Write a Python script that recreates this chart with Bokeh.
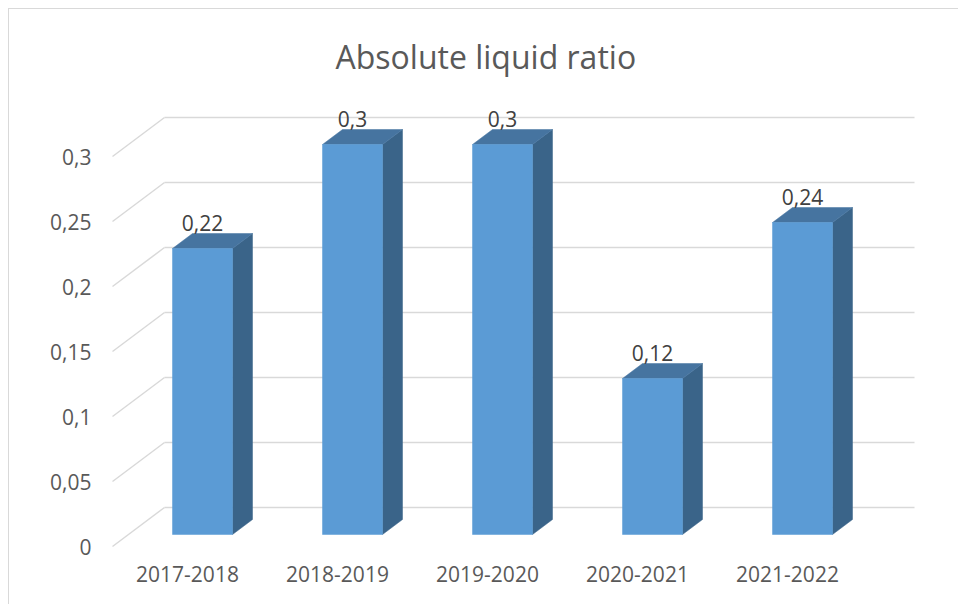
from bokeh.plotting import figure
from bokeh.models import FixedTicker, CustomJSTickFormatter, ColumnDataSource, Range1d
from bokeh.core.properties import value
from bokeh.embed import file_html
from bokeh.resources import INLINE

# ---- data ----
categories = ["2017-2018", "2018-2019", "2019-2020", "2020-2021", "2021-2022"]
ratios = [0.22, 0.30, 0.30, 0.12, 0.24]
ratio_labels = ["0,22", "0,3", "0,3", "0,12", "0,24"]
y_ticks = [0, 0.05, 0.1, 0.15, 0.2, 0.25, 0.3]
title_text = "Absolute liquid ratio"

# ---- geometry (pixel scales -> data units) ----
PX_X = 150.0   # pixels per category
PX_Y = 1300.0  # pixels per unit of ratio
W, H = 950, 596
frame_left, frame_right, frame_top, frame_bottom = 100, 910, 87, 540  # canvas px

x_start = -3 / PX_X
x_end = x_start + (frame_right - frame_left) / PX_X
y_start = -3 / PX_Y
y_end = y_start + (frame_bottom - frame_top) / PX_Y

# oblique depth offsets (in data units)
back_dx, back_dy = 52 / PX_X, 39 / PX_Y      # front wall -> back wall
bar_dx, bar_dy = 15 / PX_X, 12 / PX_Y        # front wall -> bar front face
depth_dx, depth_dy = 20 / PX_X, 15 / PX_Y    # bar depth
bar_w = 60 / PX_X

FONT = "Open Sans"
GREY = "#595959"

p = figure(width=W, height=H, output_backend="svg", toolbar_location=None,
           x_range=Range1d(x_start, x_end), y_range=Range1d(y_start, y_end),
           min_border_left=frame_left, min_border_right=W - frame_right,
           min_border_top=frame_top, min_border_bottom=H - frame_bottom,
           title=title_text)
p.styles = {"margin-left": "8px", "margin-top": "8px",
            "border-left": "1px solid #d9d9d9", "border-top": "1px solid #d9d9d9"}
p.outline_line_color = None
p.xgrid.visible = False
p.ygrid.visible = False

p.title.text_font = FONT
p.title.text_font_size = "32px"
p.title.text_font_style = "normal"
p.title.text_color = GREY
p.title.align = "left"
p.title.offset = 226
p.title.standoff = 38

# y axis
p.yaxis.ticker = FixedTicker(ticks=y_ticks)
p.yaxis.formatter = CustomJSTickFormatter(code="""
    let s = tick.toFixed(2).replace(/0+$/, '').replace(/\\.$/, '');
    return s.replace('.', ',');
""")
p.yaxis.axis_line_color = None
p.yaxis.major_tick_line_color = None
p.yaxis.minor_tick_line_color = None
p.yaxis.major_tick_out = 0
p.yaxis.major_label_standoff = 18
p.yaxis.major_label_text_font = FONT
p.yaxis.major_label_text_font_size = "21px"
p.yaxis.major_label_text_color = GREY

# x axis
centers = [i + 0.5 for i in range(len(categories))]
p.xaxis.ticker = FixedTicker(ticks=centers)
p.xaxis.major_label_overrides = {c: lab for c, lab in zip(centers, categories)}
p.xaxis.axis_line_color = None
p.xaxis.major_tick_line_color = None
p.xaxis.minor_tick_line_color = None
p.xaxis.major_tick_out = 0
p.xaxis.major_label_standoff = 16
p.xaxis.major_label_text_font = FONT
p.xaxis.major_label_text_font_size = "21px"
p.xaxis.major_label_text_color = GREY

# ---- walls / gridlines ----
n = len(categories)
diag_xs, diag_ys, hor_xs, hor_ys = [], [], [], []
for t in y_ticks:
    diag_xs.append([0, back_dx]); diag_ys.append([t, t + back_dy])
    hor_xs.append([back_dx, back_dx + n]); hor_ys.append([t + back_dy, t + back_dy])
p.multi_line(diag_xs, diag_ys, line_color="#d9d9d9", line_width=1.5)
p.multi_line(hor_xs, hor_ys, line_color="#d9d9d9", line_width=1.5)

# ---- bars ----
lefts = [c - bar_w / 2 + bar_dx for c in centers]
rights = [c + bar_w / 2 + bar_dx for c in centers]
bottoms = [bar_dy] * n
tops = [v + bar_dy for v in ratios]

side_xs = [[r, r + depth_dx, r + depth_dx, r] for r in rights]
side_ys = [[b, b + depth_dy, t + depth_dy, t] for b, t in zip(bottoms, tops)]
top_xs = [[l, l + depth_dx, r + depth_dx, r] for l, r in zip(lefts, rights)]
top_ys = [[t, t + depth_dy, t + depth_dy, t] for t in tops]

p.patches(side_xs, side_ys, fill_color="#3a6489", line_color="#3a6489", line_width=0.5)
p.patches(top_xs, top_ys, fill_color="#4674a0", line_color="#4674a0", line_width=0.5)
p.quad(left=lefts, right=rights, bottom=bottoms, top=tops,
       fill_color="#5b9bd5", line_color="#5b9bd5", line_width=0.5)

# ---- data labels ----
src = ColumnDataSource(dict(x=[c + bar_dx for c in centers], y=tops, t=ratio_labels))
p.text(x="x", y="y", text="t", source=src, text_align="center",
       text_baseline="alphabetic", y_offset=-26,
       text_font=value(FONT), text_font_size="21px", text_color="#404040")

open("out.html", "w").write(file_html(p, INLINE))
